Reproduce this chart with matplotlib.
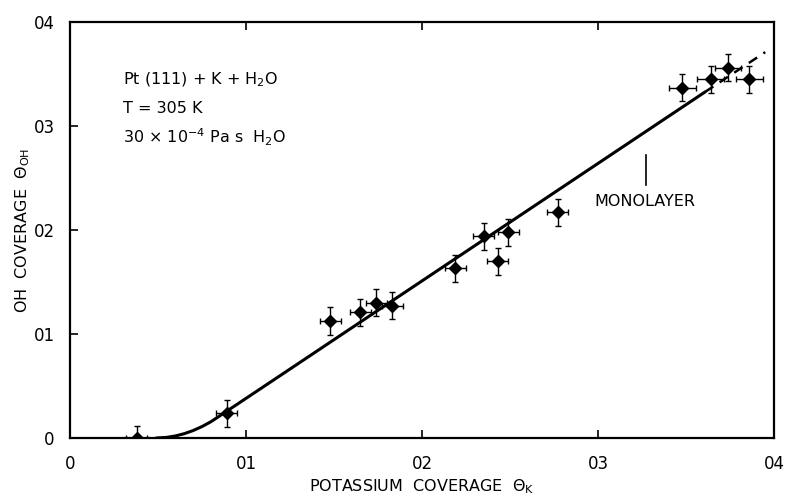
import matplotlib
matplotlib.use("Agg")
import matplotlib.pyplot as plt

# Data points (potassium coverage, OH coverage)
theta_k = [0.038, 0.089, 0.148, 0.165, 0.174, 0.183, 0.219, 0.235, 0.243, 0.249, 0.277, 0.348, 0.364, 0.374, 0.386]
theta_oh = [0.000, 0.024, 0.1125, 0.121, 0.130, 0.127, 0.163, 0.194, 0.170, 0.198, 0.217, 0.337, 0.345, 0.356, 0.345]
xerr = [0.006, 0.006, 0.006, 0.006, 0.006, 0.006, 0.006, 0.006, 0.006, 0.006, 0.006, 0.0075, 0.0075, 0.0075, 0.0075]
yerr = [0.012, 0.013, 0.013, 0.013, 0.013, 0.013, 0.013, 0.013, 0.013, 0.013, 0.013, 0.013, 0.013, 0.013, 0.013]

# Solid fit curve
curve_x = [0.049, 0.055, 0.060, 0.065, 0.070, 0.075, 0.080, 0.0836, 0.125, 0.3608]
curve_y = [0.000, 0.0006, 0.0020, 0.0042, 0.0072, 0.0110, 0.0156, 0.0196, 0.0663, 0.3327]
# Dashed continuation
dash_x = [0.3608, 0.395]
dash_y = [0.3327, 0.371]

# Monolayer marker
mono_x = 0.3275
mono_y = [0.243, 0.272]

xticks = [0, 0.1, 0.2, 0.3, 0.4]
xticklabels = ["0", "01", "02", "03", "04"]
yticks = [0, 0.1, 0.2, 0.3, 0.4]
yticklabels = ["0", "01", "02", "03", "04"]

plt.rcParams['font.family'] = ['DejaVu Sans']
plt.rcParams['mathtext.fontset'] = 'dejavusans'

fig = plt.figure(figsize=(7.87, 4.98), dpi=100)
ax = fig.add_axes([70/787, 60/498, 704/787, 416/498])

ax.plot(curve_x, curve_y, color='black', lw=2.2, solid_capstyle='round')
ax.plot(dash_x, dash_y, color='black', lw=1.8, linestyle=(0, (4, 3)))
ax.errorbar(theta_k, theta_oh, xerr=xerr, yerr=yerr, fmt='D', color='black',
            markersize=6, elinewidth=1.0, capsize=2.5, capthick=1.0, ecolor='black')

ax.plot([mono_x, mono_x], mono_y, color='black', lw=1.2)
ax.text(0.298, 0.227, "MONOLAYER", fontsize=11.5, va='center', ha='left')

ax.text(0.030, 0.344, r"Pt (111) + K + H$_2$O", fontsize=11.5, va='center')
ax.text(0.030, 0.317, "T = 305 K", fontsize=11.5, va='center')
ax.text(0.030, 0.289, r"30 $\times$ 10$^{-4}$ Pa s  H$_2$O", fontsize=11.5, va='center')

ax.set_xlim(0, 0.4)
ax.set_ylim(0, 0.4)
ax.set_xticks(xticks)
ax.set_xticklabels(xticklabels)
ax.set_yticks(yticks)
ax.set_yticklabels(yticklabels)
ax.tick_params(direction='in', length=6, width=1.2, top=True, right=False, labelsize=12)
ax.tick_params(axis='x', pad=12)
ax.tick_params(axis='y', pad=11)
for s in ax.spines.values():
    s.set_linewidth(1.6)

ax.set_xlabel(r"POTASSIUM  COVERAGE  $\Theta_{\rm K}$", fontsize=11.5, labelpad=3)
ax.set_ylabel(r"OH  COVERAGE  $\Theta_{\rm OH}$", fontsize=11.5, labelpad=1)

fig.savefig("out.png", dpi=100)
